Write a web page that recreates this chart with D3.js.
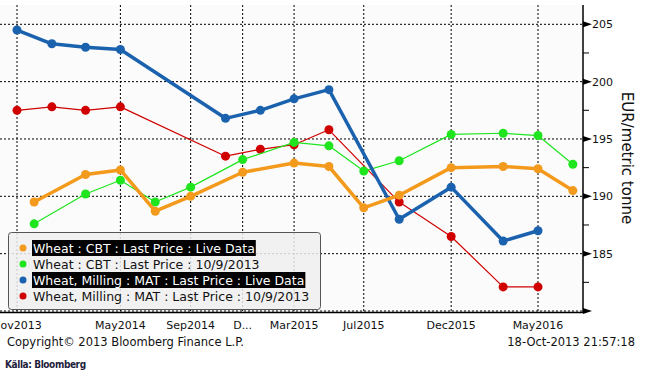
<!DOCTYPE html>
<html>
<head>
<meta charset="utf-8">
<script src="https://cdn.jsdelivr.net/npm/d3@7"></script>
<style>
  body { margin: 0; background: #fff; }
  svg { display: block; }
  text { font-family: "DejaVu Sans", sans-serif; }
</style>
</head>
<body>
<div id="chart"></div>
<script>
// contract months and prices (EUR/metric tonne)
const cbtMonths = ["2013-12", "2014-03", "2014-05", "2014-07", "2014-09", "2014-12", "2015-03",
    "2015-05", "2015-07", "2015-09", "2015-12", "2016-03", "2016-05", "2016-07"];
const cbtLive = [189.5, 191.9, 192.3, 188.7, 190.0, 192.1, 192.9, 192.6, 189.0, 190.1, 192.5, 192.6, 192.4, 190.5];
const cbtOld = [187.6, 190.2, 191.4, 189.5, 190.8, 193.2, 194.7, 194.4, 192.2, 193.1, 195.4, 195.5, 195.3, 192.8];

const matMonths = ["2013-11", "2014-01", "2014-03", "2014-05", "2014-11", "2015-01", "2015-03",
    "2015-05", "2015-09", "2015-12", "2016-03", "2016-05"];
const matLive = [204.5, 203.3, 203.0, 202.8, 196.8, 197.5, 198.5, 199.3, 188.0, 190.8, 186.1, 187.0];
const matOld = [197.5, 197.8, 197.5, 197.8, 193.5, 194.1, 194.5, 195.8, 189.5, 186.5, 182.1, 182.1];

const tickDates = ["2013-11", "2014-05", "2014-09", "2014-12", "2015-03", "2015-07", "2015-12", "2016-05"];
const tickLabels = ["Nov2013", "May2014", "Sep2014", "D...", "Mar2015", "Jul2015", "Dec2015", "May2016"];
const yTicks = [180, 185, 190, 195, 200, 205];
const yLabels = [185, 190, 195, 200, 205];
const yMinor = [182.5, 187.5, 192.5, 197.5, 202.5];

const seriesNames = [
    "Wheat : CBT : Last Price : Live Data",
    "Wheat : CBT : Last Price : 10/9/2013",
    "Wheat, Milling : MAT : Last Price : Live Data",
    "Wheat, Milling : MAT : Last Price : 10/9/2013"
];

const parseMonth = d3.timeParse("%Y-%m");

const width = 646;
const height = 375;
const plotRight = 583;
const plotTop = 5;
const plotBottom = 313;

const svg = d3.select("#chart")
    .append("svg")
    .attr("width", width)
    .attr("height", height);

const x = d3.scaleTime()
    .domain([parseMonth("2013-11"), parseMonth("2016-05")])
    .range([17, 538]);

const y = d3.scaleLinear()
    .domain([180, 205])
    .range([311, 24.3]);

svg.append("rect")
    .attr("x", 0).attr("y", plotTop)
    .attr("width", plotRight).attr("height", plotBottom - plotTop)
    .attr("fill", "#fbfbfb");

// grid
svg.append("g")
    .selectAll("line")
    .data(yTicks)
    .enter()
    .append("line")
    .attr("x1", 0).attr("x2", plotRight)
    .attr("y1", d => y(d)).attr("y2", d => y(d))
    .attr("stroke", "#000")
    .attr("stroke-dasharray", "2,2");

svg.append("g")
    .selectAll("line")
    .data(tickDates)
    .enter()
    .append("line")
    .attr("x1", d => x(parseMonth(d))).attr("x2", d => x(parseMonth(d)))
    .attr("y1", plotTop).attr("y2", 311)
    .attr("stroke", "#000")
    .attr("stroke-dasharray", "2,2");

// y axis on the right
svg.append("line")
    .attr("x1", plotRight).attr("x2", plotRight)
    .attr("y1", plotTop).attr("y2", plotBottom)
    .attr("stroke", "#000")
    .attr("stroke-width", 1.5);

svg.append("line")
    .attr("x1", 0).attr("x2", plotRight)
    .attr("y1", plotBottom - 0.5).attr("y2", plotBottom - 0.5)
    .attr("stroke", "#000")
    .attr("stroke-width", 1.5);

svg.append("g")
    .selectAll("path")
    .data(yTicks)
    .enter()
    .append("path")
    .attr("d", d => `M${plotRight},${y(d) - 3}L${plotRight + 9},${y(d)}L${plotRight},${y(d) + 3}Z`)
    .attr("fill", "#000");

svg.append("g")
    .selectAll("line")
    .data(yMinor)
    .enter()
    .append("line")
    .attr("x1", plotRight).attr("x2", plotRight + 6)
    .attr("y1", d => y(d)).attr("y2", d => y(d))
    .attr("stroke", "#000");

svg.append("g")
    .selectAll("text")
    .data(yLabels)
    .enter()
    .append("text")
    .attr("x", 592)
    .attr("y", d => y(d) + 4)
    .style("font-size", "11px")
    .attr("fill", "#111")
    .text(d => d);

svg.append("text")
    .attr("transform", "translate(622,158) rotate(90)")
    .style("text-anchor", "middle")
    .style("font-size", "15px")
    .attr("fill", "#111")
    .text("EUR/metric tonne");

svg.append("g")
    .selectAll("text")
    .data(tickDates)
    .enter()
    .append("text")
    .attr("x", d => x(parseMonth(d)))
    .attr("y", 329)
    .style("text-anchor", "middle")
    .style("font-size", "11px")
    .attr("fill", "#111")
    .text((d, i) => tickLabels[i]);

// series
const series = [
    { months: cbtMonths, values: cbtLive, color: "#f39a1c", width: 3.5, r: 4.5 },
    { months: cbtMonths, values: cbtOld, color: "#1fe51f", width: 1.2, r: 4.5 },
    { months: matMonths, values: matLive, color: "#1b62ae", width: 3.5, r: 4.5 },
    { months: matMonths, values: matOld, color: "#d00000", width: 1.2, r: 4.5 }
];

const line = d3.line()
    .x(d => x(d.date))
    .y(d => y(d.value));

// draw thin series first, then thick ones
[3, 1, 2, 0].forEach(i => {
    const s = series[i];
    const pts = s.months.map((m, j) => ({ date: parseMonth(m), value: s.values[j] }));
    svg.append("path")
        .datum(pts)
        .attr("d", line)
        .attr("fill", "none")
        .attr("stroke", s.color)
        .attr("stroke-width", s.width)
        .attr("stroke-linejoin", "round");
    svg.append("g")
        .selectAll("circle")
        .data(pts)
        .enter()
        .append("circle")
        .attr("cx", d => x(d.date))
        .attr("cy", d => y(d.value))
        .attr("r", s.r)
        .attr("fill", s.color);
});

// legend
const legend = svg.append("g").attr("transform", "translate(8,232)");
legend.append("rect")
    .attr("x", 0.5).attr("y", 0.5)
    .attr("width", 312).attr("height", 77)
    .attr("rx", 3)
    .attr("fill", "#eeeeee")
    .attr("fill-opacity", 0.85)
    .attr("stroke", "#555");

seriesNames.forEach((name, i) => {
    const cy = 16 + i * 16;
    const live = i === 0 || i === 2;
    legend.append("circle")
        .attr("cx", 15).attr("cy", cy)
        .attr("r", 3.5)
        .attr("fill", series[i].color);
    const bg = legend.append("rect")
        .attr("x", 24).attr("y", cy - 8)
        .attr("height", 16)
        .attr("fill", live ? "#000" : "none");
    const t = legend.append("text")
        .attr("x", 25).attr("y", cy + 4.5)
        .style("font-size", "12.5px")
        .attr("fill", live ? "#fff" : "#111")
        .text(name);
    bg.attr("width", t.node().getComputedTextLength() + 2);
});

// footer
svg.append("text")
    .attr("x", 7).attr("y", 346)
    .style("font-size", "11.5px")
    .attr("fill", "#111")
    .text("Copyright\u00a9 2013 Bloomberg Finance L.P.");

svg.append("text")
    .attr("x", 635).attr("y", 346)
    .style("text-anchor", "end")
    .style("font-size", "11.5px")
    .attr("fill", "#111")
    .text("18-Oct-2013 21:57:18");

svg.append("text")
    .attr("x", 5).attr("y", 368)
    .style("font-family", "'DejaVu Sans Condensed', 'DejaVu Sans', sans-serif")
    .style("font-size", "10px")
    .style("font-weight", "bold")
    .style("letter-spacing", "-0.4px")
    .attr("fill", "#1e1e3c")
    .text("Källa: Bloomberg");
</script>
</body>
</html>
